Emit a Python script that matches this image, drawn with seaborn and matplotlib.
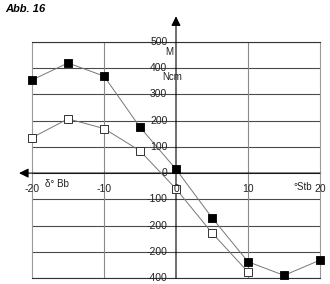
import matplotlib
matplotlib.use("Agg")
import matplotlib.pyplot as plt
import seaborn as sns
import pandas as pd

# ---- data ----
filled_x = [-20, -15, -10, -5, 0, 5, 10, 15, 20]
filled_y = [355, 420, 370, 175, 15, -170, -338, -390, -332]
open_x = [-20, -15, -10, -5, 0, 5, 10]
open_y = [135, 207, 170, 85, -60, -228, -377]
y_ticks = [500, 400, 300, 200, 100, 0, -100, -200, -300, -400]
y_tick_labels = ["500", "400", "300", "200", "100", "0", "-100", "-200", "-200", "-400"]
x_ticks = [-20, -10, 0, 10, 20]
x_tick_labels = ["-20", "-10", "0", "10", "20"]

sns.set_theme(style="white")
plt.rcParams["font.family"] = ["Liberation Sans", "DejaVu Sans"]

df_f = pd.DataFrame({"x": filled_x, "y": filled_y})
df_o = pd.DataFrame({"x": open_x, "y": open_y})

fig = plt.figure(figsize=(3.3, 2.84), dpi=100)
ax = fig.add_axes([32 / 330, 6 / 284, 288 / 330, 236 / 284])

ax.set_xlim(-20, 20)
ax.set_ylim(-400, 500)

# grid
for yv in y_ticks:
    ax.axhline(yv, color="#4a4a4a", lw=0.8, zorder=1)
for xv in [-10, 10]:
    ax.axvline(xv, color="#8a8a8a", lw=0.8, zorder=1)
for s in ["left", "right"]:
    ax.spines[s].set_color("#9a9a9a")
    ax.spines[s].set_linewidth(0.8)
for s in ["top", "bottom"]:
    ax.spines[s].set_color("#333333")
    ax.spines[s].set_linewidth(0.8)
ax.set_xticks([])
ax.set_yticks([])

# axes with arrows
ax.annotate("", xy=(0, 598), xytext=(0, -400), annotation_clip=False,
            arrowprops=dict(arrowstyle="-|>", color="black", lw=0.8,
                            mutation_scale=14, shrinkA=0, shrinkB=0), zorder=3)
ax.annotate("", xy=(-21.8, 0), xytext=(20, 0), annotation_clip=False,
            arrowprops=dict(arrowstyle="-|>", color="black", lw=0.8,
                            mutation_scale=14, shrinkA=0, shrinkB=0), zorder=3)

# curves
sns.lineplot(data=df_f, x="x", y="y", color="#777777", lw=0.7, ax=ax,
             zorder=4, sort=True)
sns.lineplot(data=df_o, x="x", y="y", color="#777777", lw=0.7, ax=ax,
             zorder=4, sort=True)
sns.scatterplot(data=df_f, x="x", y="y", marker="s", s=26, color="black",
                edgecolor="black", linewidth=0.6, ax=ax, zorder=5, clip_on=False)
sns.scatterplot(data=df_o, x="x", y="y", marker="s", s=26, color="white",
                edgecolor="#333333", linewidth=0.7, ax=ax, zorder=5, clip_on=False)
ax.set_xlabel("")
ax.set_ylabel("")

# tick labels
for yv, lab in zip(y_ticks, y_tick_labels):
    ax.text(-1.2, yv, lab, ha="right", va="center", fontsize=7.5,
            color="#222222", zorder=6)
for xv, lab in zip(x_ticks, x_tick_labels):
    ax.text(xv, -62, lab, ha="center", va="center", fontsize=7.5,
            color="#222222", zorder=6, clip_on=False)

ax.text(-0.9, 462, "M", ha="center", va="center", fontsize=7, color="#222222")
ax.text(-0.5, 367, "Ncm", ha="center", va="center", fontsize=7, color="#222222")
ax.text(-16.5, -42, "δ° Bb", ha="center", va="center", fontsize=7, color="#222222")
ax.text(17.6, -54, "°Stb", ha="center", va="center", fontsize=7, color="#222222")

fig.text(5 / 330, 1 - 4 / 284, "Abb. 16", ha="left", va="top", fontsize=8,
         fontweight="bold", fontstyle="italic", color="black")

fig.savefig("out.png", dpi=100)
